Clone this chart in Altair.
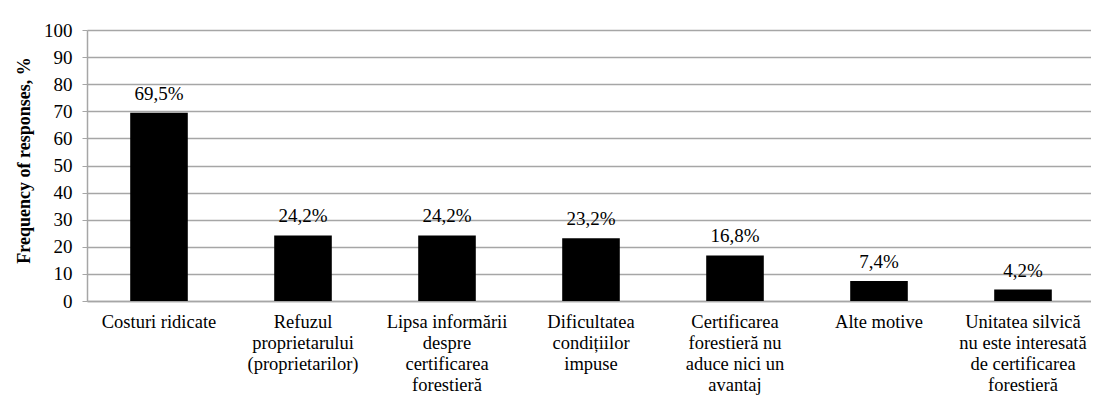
import altair as alt
import pandas as pd

categories = [
    "Costuri ridicate",
    "Refuzul|proprietarului|(proprietarilor)",
    "Lipsa informării|despre|certificarea|forestieră",
    "Dificultatea|condițiilor|impuse",
    "Certificarea|forestieră nu|aduce nici un|avantaj",
    "Alte motive",
    "Unitatea silvică|nu este interesată|de certificarea|forestieră",
]
values = [69.5, 24.2, 24.2, 23.2, 16.8, 7.4, 4.2]
value_labels = ["69,5%", "24,2%", "24,2%", "23,2%", "16,8%", "7,4%", "4,2%"]
y_ticks = [0, 10, 20, 30, 40, 50, 60, 70, 80, 90, 100]

df = pd.DataFrame({"cat": categories, "val": values, "lab": value_labels})

FONT = "Liberation Serif, Times New Roman, serif"
GRID = "#a6a6a6"
FS = 19

x = alt.X(
    "cat:N",
    sort=None,
    scale=alt.Scale(range=[0, 1008], paddingInner=0.6, paddingOuter=0.3),
    axis=alt.Axis(
        title=None,
        labelAngle=0,
        labelExpr="split(datum.label, '|')",
        labelFont=FONT,
        labelFontSize=18.5,
        labelColor="#000000",
        labelLineHeight=21,
        labelBaseline="top",
        labelPadding=11,
        ticks=False,
        domainColor=GRID,
        domainWidth=1.5,
        labelLimit=300,
    ),
)

y = alt.Y(
    "val:Q",
    scale=alt.Scale(domain=[0, 100], nice=False),
    axis=alt.Axis(
        title="Frequency of responses, %",
        titleFont=FONT,
        titleFontSize=18,
        titleFontWeight="bold",
        titleColor="#000000",
        titleAngle=270,
        titleAlign="center",
        titleBaseline="alphabetic",
        titleX=-58,
        titleY=130,
        values=y_ticks,
        labelFont=FONT,
        labelFontSize=FS,
        labelColor="#000000",
        labelPadding=10,
        tickSize=5,
        tickColor=GRID,
        domainColor=GRID,
        domainWidth=1.5,
        gridColor=GRID,
        gridWidth=1.5,
        grid=True,
    ),
)

base = alt.Chart(df).encode(x=x, y=y)
bars = base.mark_bar(color="#000000")
text = base.mark_text(
    font=FONT, fontSize=FS, color="#000000", baseline="alphabetic", dy=-13
).encode(text="lab:N")

chart = (
    alt.layer(bars, text)
    .properties(
        width=1004,
        height=271,
        autosize=alt.AutoSizeParams(type="none"),
        padding={"left": 79, "top": 22, "right": 0, "bottom": 95},
    )
    .configure_view(stroke=None)
)

chart.save("out.html", embed_options={"renderer": "svg", "actions": False})
